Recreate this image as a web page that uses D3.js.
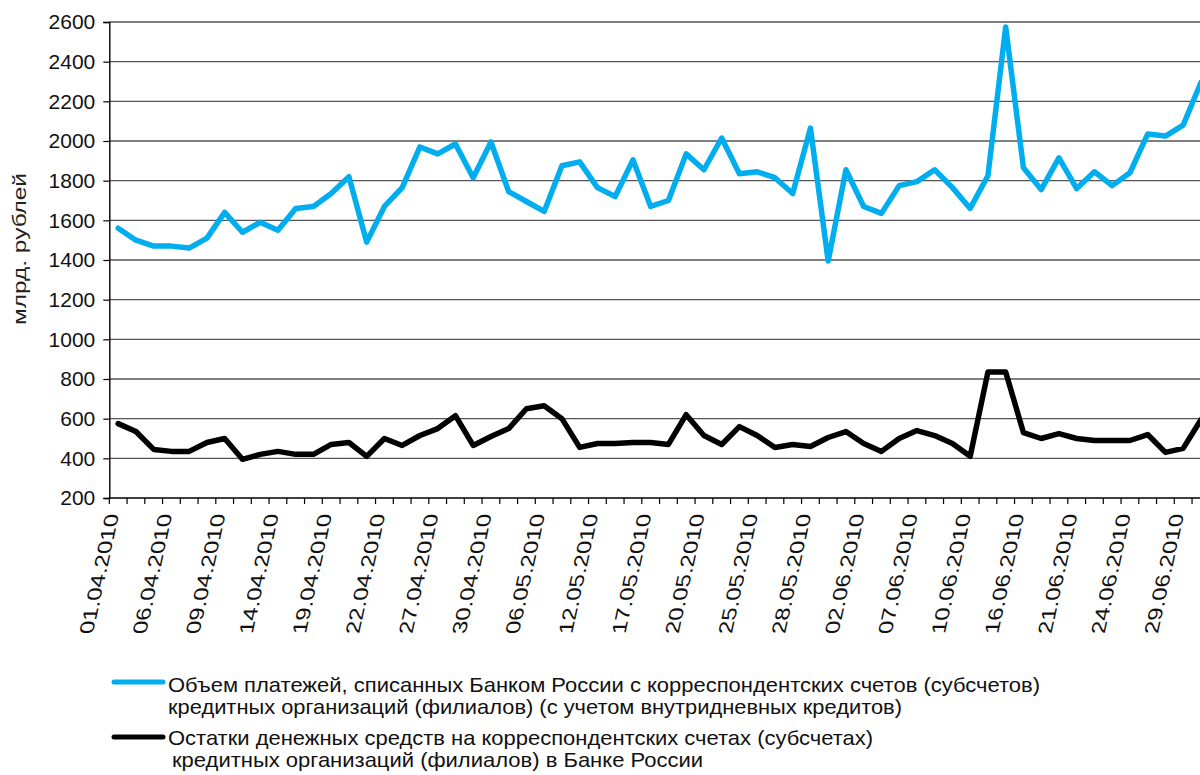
<!DOCTYPE html>
<html>
<head>
<meta charset="utf-8">
<script src="https://cdn.jsdelivr.net/npm/d3@7"></script>
<style>
  html, body { margin: 0; padding: 0; background: #fff; }
  svg { display: block; font-family: "Liberation Sans", Arial, sans-serif; }
</style>
</head>
<body>
<svg id="chart" width="1200" height="775"></svg>
<script>
// Рабочие дни апреля-июня 2010
const dates = [
    '01.04.2010', '02.04.2010', '05.04.2010', '06.04.2010', '07.04.2010', '08.04.2010', '09.04.2010',
    '12.04.2010', '13.04.2010', '14.04.2010', '15.04.2010', '16.04.2010', '19.04.2010', '20.04.2010',
    '21.04.2010', '22.04.2010', '23.04.2010', '26.04.2010', '27.04.2010', '28.04.2010', '29.04.2010',
    '30.04.2010', '04.05.2010', '05.05.2010', '06.05.2010', '07.05.2010', '11.05.2010', '12.05.2010',
    '13.05.2010', '14.05.2010', '17.05.2010', '18.05.2010', '19.05.2010', '20.05.2010', '21.05.2010',
    '24.05.2010', '25.05.2010', '26.05.2010', '27.05.2010', '28.05.2010', '31.05.2010', '01.06.2010',
    '02.06.2010', '03.06.2010', '04.06.2010', '07.06.2010', '08.06.2010', '09.06.2010', '10.06.2010',
    '11.06.2010', '15.06.2010', '16.06.2010', '17.06.2010', '18.06.2010', '21.06.2010', '22.06.2010',
    '23.06.2010', '24.06.2010', '25.06.2010', '28.06.2010', '29.06.2010', '30.06.2010'
];

// Объем платежей (млрд. руб.)
const payments = [
    1560, 1500, 1470, 1470, 1460, 1510, 1640, 1540, 1590, 1550, 1660, 1670, 1735, 1820, 1490,
    1670, 1765, 1970, 1935, 1985, 1815, 1995, 1745, 1695, 1645, 1875, 1895, 1765, 1720, 1905,
    1670, 1700, 1935, 1855, 2015, 1835, 1845, 1815, 1735, 2065, 1395, 1855, 1670, 1635, 1775,
    1795, 1855, 1765, 1660, 1825, 2575, 1865, 1755, 1915, 1760, 1845, 1775, 1840, 2035, 2025,
    2080, 2295
];

// Остатки на корсчетах (млрд. руб.)
const balances = [
    575, 535, 445, 435, 435, 480, 500, 395, 420, 435, 420, 420, 470, 480, 410,
    500, 465, 515, 550, 615, 465, 510, 550, 650, 665, 600, 455, 475, 475, 480,
    480, 470, 620, 515, 470, 560, 515, 455, 470, 460, 505, 535, 475, 435, 500,
    540, 515, 475, 410, 835, 835, 530, 500, 525, 500, 490, 490, 490, 520, 430,
    450, 595
];

const yTicks = [200, 400, 600, 800, 1000, 1200, 1400, 1600, 1800, 2000, 2200, 2400, 2600];

const seriesNames = [
    ['Объем платежей, списанных Банком России с корреспондентских счетов (субсчетов)',
     'кредитных организаций (филиалов) (с учетом внутридневных кредитов)'],
    ['Остатки денежных средств на корреспондентских счетах (субсчетах)',
     ' кредитных организаций (филиалов) в Банке России']
];
const seriesColors = ['#00aeef', '#000000'];

const svg = d3.select('#chart');

// Область построения (правый край уходит за кадр)
const plot = { left: 109.3, top: 22, bottom: 498, step: 17.75 };
plot.right = plot.left + dates.length * plot.step;

const x = d3.scaleBand()
    .domain(d3.range(dates.length))
    .range([plot.left, plot.right]);

const y = d3.scaleLinear()
    .domain([200, 2600])
    .range([plot.bottom, plot.top]);

// Сетка
svg.append('g')
    .selectAll('line')
    .data(yTicks.slice(1))
    .enter()
    .append('line')
    .attr('x1', plot.left)
    .attr('x2', plot.right)
    .attr('y1', d => y(d))
    .attr('y2', d => y(d))
    .attr('stroke', '#555')
    .attr('stroke-width', 1.4);

// Ось Y
const yAxis = svg.append('g')
    .attr('transform', `translate(${plot.left},0)`)
    .call(d3.axisLeft(y).tickValues(yTicks).tickSize(6).tickPadding(8).tickFormat(d3.format('d')));
yAxis.select('.domain').attr('stroke', '#000').attr('stroke-width', 1.4);
yAxis.selectAll('.tick line').attr('stroke', '#000').attr('stroke-width', 1.2);
yAxis.selectAll('.tick text')
    .attr('font-size', 21)
    .attr('fill', '#111')
    .attr('font-family', '"Liberation Sans", Arial, sans-serif');

// Ось X: линия и засечки между категориями
svg.append('line')
    .attr('x1', plot.left)
    .attr('x2', plot.right)
    .attr('y1', plot.bottom)
    .attr('y2', plot.bottom)
    .attr('stroke', '#000')
    .attr('stroke-width', 1.4);

svg.append('g')
    .selectAll('line')
    .data(d3.range(dates.length + 1))
    .enter()
    .append('line')
    .attr('x1', d => plot.left + d * x.step())
    .attr('x2', d => plot.left + d * x.step())
    .attr('y1', plot.bottom)
    .attr('y2', plot.bottom + 6)
    .attr('stroke', '#000')
    .attr('stroke-width', 1.2);

// Подписи дат (каждая третья), наклонённые
const sk = 1.2;
svg.append('g')
    .selectAll('text')
    .data(dates.map((d, i) => ({ d, i })).filter(o => o.i % 3 === 0))
    .enter()
    .append('text')
    .attr('text-anchor', 'end')
    .attr('font-size', 20)
    .attr('fill', '#111')
    .attr('transform', o => `matrix(${0.22 * sk},${-sk},1,0,${x(o.i) + x.bandwidth() / 2 + 1},514)`)
    .text(o => o.d);

// Линии рядов
const line = d3.line()
    .x((d, i) => x(i) + x.bandwidth() / 2)
    .y(d => y(d));

[payments, balances].forEach((vals, k) => {
    svg.append('path')
        .datum(vals)
        .attr('fill', 'none')
        .attr('stroke', seriesColors[k])
        .attr('stroke-width', 5.5)
        .attr('stroke-linejoin', 'round')
        .attr('stroke-linecap', 'round')
        .attr('d', line);
});

// Подпись оси Y
svg.append('text')
    .attr('transform', 'translate(26,249) rotate(-90)')
    .attr('text-anchor', 'middle')
    .attr('font-size', 19)
    .attr('fill', '#222')
    .attr('textLength', 152)
    .attr('lengthAdjust', 'spacingAndGlyphs')
    .text('млрд. рублей');

// Легенда
const legend = [
    { swatchY: 682, lines: [692, 714], widths: [872, 734], x0: [168, 168] },
    { swatchY: 737, lines: [745, 767], widths: [705, 531], x0: [168, 172] }
];
legend.forEach((item, k) => {
    svg.append('line')
        .attr('x1', 114)
        .attr('x2', 163)
        .attr('y1', item.swatchY)
        .attr('y2', item.swatchY)
        .attr('stroke', seriesColors[k])
        .attr('stroke-width', 5)
        .attr('stroke-linecap', 'round');
    seriesNames[k].forEach((txt, j) => {
        svg.append('text')
            .attr('x', item.x0[j])
            .attr('y', item.lines[j])
            .attr('font-size', 21)
            .attr('fill', '#111')
            .attr('textLength', item.widths[j])
            .attr('lengthAdjust', 'spacingAndGlyphs')
            .text(txt.trim());
    });
});
</script>
</body>
</html>
